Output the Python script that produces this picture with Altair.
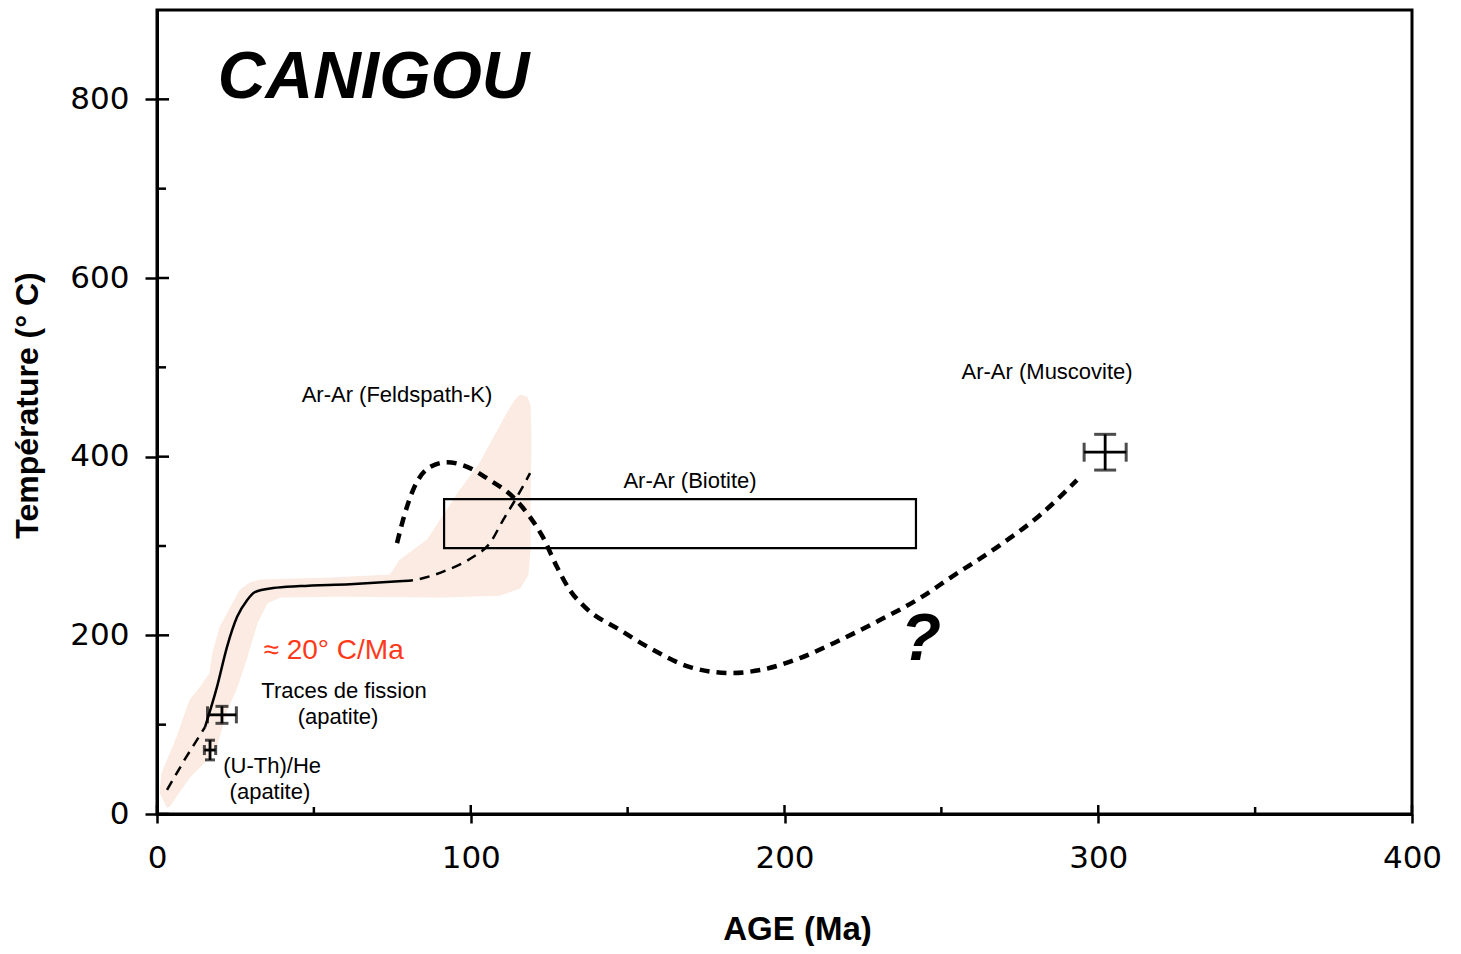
import altair as alt
import pandas as pd

# ---------------- data ----------------
# shaded envelope (peach band), polygon outline in (age Ma, T °C)
env_x = [3.2, 1.0, 1.6, 6.4, 10.5, 14.3, 16.9, 17.8, 20.1, 24.2, 26.5, 29.6, 32.8, 55.1,
         74.3, 77.4, 86.1, 96.6, 102.9, 111.6, 114.1, 115.7, 117.9, 118.9, 119.2, 118.9,
         118.9, 118.2, 115.7, 109.3, 90.2, 58.3, 39.2, 35.1, 31.9, 28.7, 25.5, 22.3, 19.1,
         15.9, 10.5, 6.4, 4.1]
env_y = [7.8, 23.5, 45.9, 86.2, 127.6, 144.3, 157.8, 180.1, 209.2, 236.1, 250.6, 258.5,
         261.8, 264.1, 267.4, 284.2, 306.6, 362.5, 392.7, 448.7, 463.2, 468.8, 466.6, 457.6,
         418.5, 351.3, 295.4, 267.4, 252.9, 245.0, 242.8, 243.9, 242.8, 236.1, 213.7, 175.7,
         142.1, 116.4, 77.2, 60.4, 41.4, 21.3, 9.0]

# solid cooling path
solid_x = [15.3, 19.1, 22.3, 25.5, 28.7, 31.2, 37.0, 45.6, 61.5, 78.4]
solid_y = [97.3, 142.1, 186.9, 220.4, 239.4, 248.4, 252.9, 255.1, 257.3, 260.7]

# thin dashed extensions
low_dash_x = [3.2, 9.0, 15.3]
low_dash_y = [27.0, 62.0, 97.3]
up_dash_x = [78.4, 81.6, 92.4, 100.7, 106.1, 110.3, 114.7, 118.9]
up_dash_y = [260.7, 261.8, 273.0, 287.6, 303.2, 329.0, 354.7, 381.5]

# bold dashed hypothetical path
path_x = [76.5, 78.4, 81.6, 87.0, 92.4, 97.5, 106.1, 113.5, 118.9, 123.0, 127.5, 131.6,
          136.4, 147.6, 157.1, 169.9, 182.6, 192.2, 204.9, 217.7, 230.4, 243.2, 252.7,
          268.7, 281.4, 293.2]
path_y = [303.2, 329.0, 362.5, 388.3, 393.8, 390.5, 373.7, 354.7, 332.3, 309.9, 276.4,
          250.6, 231.6, 205.9, 185.7, 164.5, 157.8, 161.1, 174.5, 194.7, 217.1, 241.7,
          264.1, 301.0, 334.5, 373.7]

# Ar-Ar biotite box
box_x1, box_x2 = [91.5], [241.9]
box_y1, box_y2 = [297.6], [352.4]

# error-bar points
eb_name = ["Muscovite", "Traces de fission", "(U-Th)/He"]
eb_x = [302.2, 20.7, 16.9]
eb_xerr = [6.7, 4.6, 1.8]
eb_y = [405.0, 111.0, 71.6]
eb_yerr = [20.0, 9.5, 11.0]
eb_hcap = [19, 17, 10]   # end caps of horizontal bars (px)
eb_vcap = [22, 13, 10]   # end caps of vertical bars (px)

# text annotations
lab_text = ["Ar-Ar (Feldspath-K)", "Ar-Ar (Biotite)", "Ar-Ar (Muscovite)",
            "Traces de fission", "(apatite)", "(U-Th)/He", "(apatite)"]
lab_x = [76.5, 169.9, 283.7, 59.6, 57.7, 36.7, 36.0]
lab_y = [469.0, 372.6, 494.5, 137.6, 108.5, 53.7, 24.6]

rate_text = ["≈ 20° C/Ma"]
rate_x = [56.3]
rate_y = [182.4]

title_text = ["CANIGOU"]
title_x = [19.4]
title_y = [802.0]

q_text = ["?"]
q_x = [243.5]
q_y = [194.7]

x_major = [0, 100, 200, 300, 400]
x_minor = [50, 150, 250, 350]
y_major = [0, 200, 400, 600, 800]
y_minor = [100, 300, 500, 700]

# ---------------- tables ----------------
env = pd.DataFrame({"x": env_x, "y": env_y, "o": range(len(env_x))})
solid = pd.DataFrame({"x": solid_x, "y": solid_y})
low_dash = pd.DataFrame({"x": low_dash_x, "y": low_dash_y})
up_dash = pd.DataFrame({"x": up_dash_x, "y": up_dash_y})
path = pd.DataFrame({"x": path_x, "y": path_y})
box = pd.DataFrame({"x1": box_x1, "x2": box_x2, "y1": box_y1, "y2": box_y2})
eb = pd.DataFrame({"name": eb_name, "x": eb_x, "y": eb_y})
eb["xlo"] = [a - b for a, b in zip(eb_x, eb_xerr)]
eb["xhi"] = [a + b for a, b in zip(eb_x, eb_xerr)]
eb["ylo"] = [a - b for a, b in zip(eb_y, eb_yerr)]
eb["yhi"] = [a + b for a, b in zip(eb_y, eb_yerr)]
eb["hcap"] = eb_hcap
eb["vcap"] = eb_vcap
labs = pd.DataFrame({"t": lab_text, "x": lab_x, "y": lab_y})
rate = pd.DataFrame({"t": rate_text, "x": rate_x, "y": rate_y})
ttl = pd.DataFrame({"t": title_text, "x": title_x, "y": title_y})
qq = pd.DataFrame({"t": q_text, "x": q_x, "y": q_y})
xmaj = pd.DataFrame({"v": x_major})
xmin = pd.DataFrame({"v": x_minor})
ymaj = pd.DataFrame({"v": y_major})
ymin = pd.DataFrame({"v": y_minor})

W, H = 1255, 804
LABEL_FONT = "DejaVu Sans"
TXT_FONT = "Liberation Sans"

xs = alt.Scale(domain=[0, 400], nice=False, zero=False)
ys = alt.Scale(domain=[0, 900], nice=False, zero=False)

X = lambda f="x": alt.X(f"{f}:Q", scale=xs, axis=alt.Axis(
    values=x_major, title="AGE (Ma)", grid=False, tickSize=9, tickWidth=2.5,
    tickColor="black", domainColor="black", domainWidth=3, labelFont=LABEL_FONT,
    labelFontSize=31, labelColor="black", labelPadding=20, labelFlush=False,
    titleFont=TXT_FONT, titleFontSize=33, titleFontWeight="bold", titleColor="black",
    titleX=640, titleY=115, titleBaseline="middle"))
Y = lambda f="y": alt.Y(f"{f}:Q", scale=ys, axis=alt.Axis(
    values=y_major, title="Température (° C)", grid=False, tickSize=12, tickWidth=2.5,
    tickColor="black", domainColor="black", domainWidth=3, labelFont=LABEL_FONT,
    labelFontSize=31, labelColor="black", labelPadding=16, labelFlush=False,
    titleFont=TXT_FONT, titleFontSize=32, titleFontWeight="bold", titleColor="black",
    titleX=-130, titleY=395, titleBaseline="middle", titleAngle=-90, titleAlign="center"))

band = alt.Chart(env).mark_line(
    interpolate="linear-closed", fill="#fbebe2", stroke="#fbebe2", strokeWidth=1
).encode(x=X(), y=Y(), order="o:Q")

solid_l = alt.Chart(solid).mark_line(color="black", strokeWidth=2.5,
                                     interpolate="monotone").encode(x=X(), y=Y())
low_l = alt.Chart(low_dash).mark_line(color="black", strokeWidth=2.5,
                                      strokeDash=[10, 7]).encode(x=X(), y=Y())
up_l = alt.Chart(up_dash).mark_line(color="black", strokeWidth=2.5, strokeDash=[10, 7],
                                    interpolate="monotone").encode(x=X(), y=Y())
path_l = alt.Chart(path).mark_line(color="black", strokeWidth=4.5, strokeDash=[10, 7],
                                   interpolate="monotone").encode(x=X(), y=Y())

box_r = alt.Chart(box).mark_rect(fill=None, stroke="black", strokeWidth=2.2).encode(
    x=X("x1"), x2="x2:Q", y=Y("y1"), y2="y2:Q")

eb_h = alt.Chart(eb).mark_rule(color="black", strokeWidth=2.8).encode(
    x=X("xlo"), x2="xhi:Q", y=Y())
eb_v = alt.Chart(eb).mark_rule(color="black", strokeWidth=2.8).encode(
    x=X(), y=Y("ylo"), y2="yhi:Q")
cap_l = alt.Chart(eb).mark_tick(color="black", thickness=3, orient="vertical").encode(
    x=X("xlo"), y=Y(), size=alt.Size("hcap:Q", scale=None, legend=None))
cap_r = alt.Chart(eb).mark_tick(color="black", thickness=3, orient="vertical").encode(
    x=X("xhi"), y=Y(), size=alt.Size("hcap:Q", scale=None, legend=None))
cap_t = alt.Chart(eb).mark_tick(color="black", thickness=3, orient="horizontal").encode(
    x=X(), y=Y("yhi"), size=alt.Size("vcap:Q", scale=None, legend=None))
cap_b = alt.Chart(eb).mark_tick(color="black", thickness=3, orient="horizontal").encode(
    x=X(), y=Y("ylo"), size=alt.Size("vcap:Q", scale=None, legend=None))

labels = alt.Chart(labs).mark_text(font=TXT_FONT, fontSize=22, color="black",
                                   align="center", baseline="middle").encode(
    x=X(), y=Y(), text="t:N")
rate_t = alt.Chart(rate).mark_text(font=TXT_FONT, fontSize=28, color="#ff3a1a",
                                   align="center", baseline="middle").encode(
    x=X(), y=Y(), text="t:N")
title_t = alt.Chart(ttl).mark_text(font=TXT_FONT, fontSize=66, fontWeight="bold",
                                   fontStyle="italic", color="black", align="left",
                                   baseline="alphabetic").encode(x=X(), y=Y(), text="t:N")
q_t = alt.Chart(qq).mark_text(font=TXT_FONT, fontSize=66, fontWeight="bold",
                              fontStyle="italic", color="black", align="center",
                              baseline="middle").encode(x=X(), y=Y(), text="t:N")

# inward halves of the axis ticks
xin_maj = alt.Chart(xmaj).mark_rule(color="black", strokeWidth=2.5).encode(
    x=X("v"), y=alt.value(H - 9), y2=alt.value(H))
xin_min = alt.Chart(xmin).mark_rule(color="black", strokeWidth=2.5).encode(
    x=X("v"), y=alt.value(H - 7), y2=alt.value(H))
yin_maj = alt.Chart(ymaj).mark_rule(color="black", strokeWidth=2.5).encode(
    y=Y("v"), x=alt.value(0), x2=alt.value(12))
yin_min = alt.Chart(ymin).mark_rule(color="black", strokeWidth=2.5).encode(
    y=Y("v"), x=alt.value(0), x2=alt.value(9))

chart = alt.layer(
    band, solid_l, low_l, up_l, path_l, box_r,
    eb_h, eb_v, cap_l, cap_r, cap_t, cap_b,
    labels, rate_t, title_t, q_t,
    xin_maj, xin_min, yin_maj, yin_min,
).properties(
    width=W, height=H,
    autosize=alt.AutoSizeParams(type="none"),
    padding={"left": 149, "top": 2, "right": 40, "bottom": 132},
    background="white",
).configure_view(
    stroke="black", strokeWidth=3
)

chart.save("out.html", embed_options={"renderer": "svg", "actions": False})
